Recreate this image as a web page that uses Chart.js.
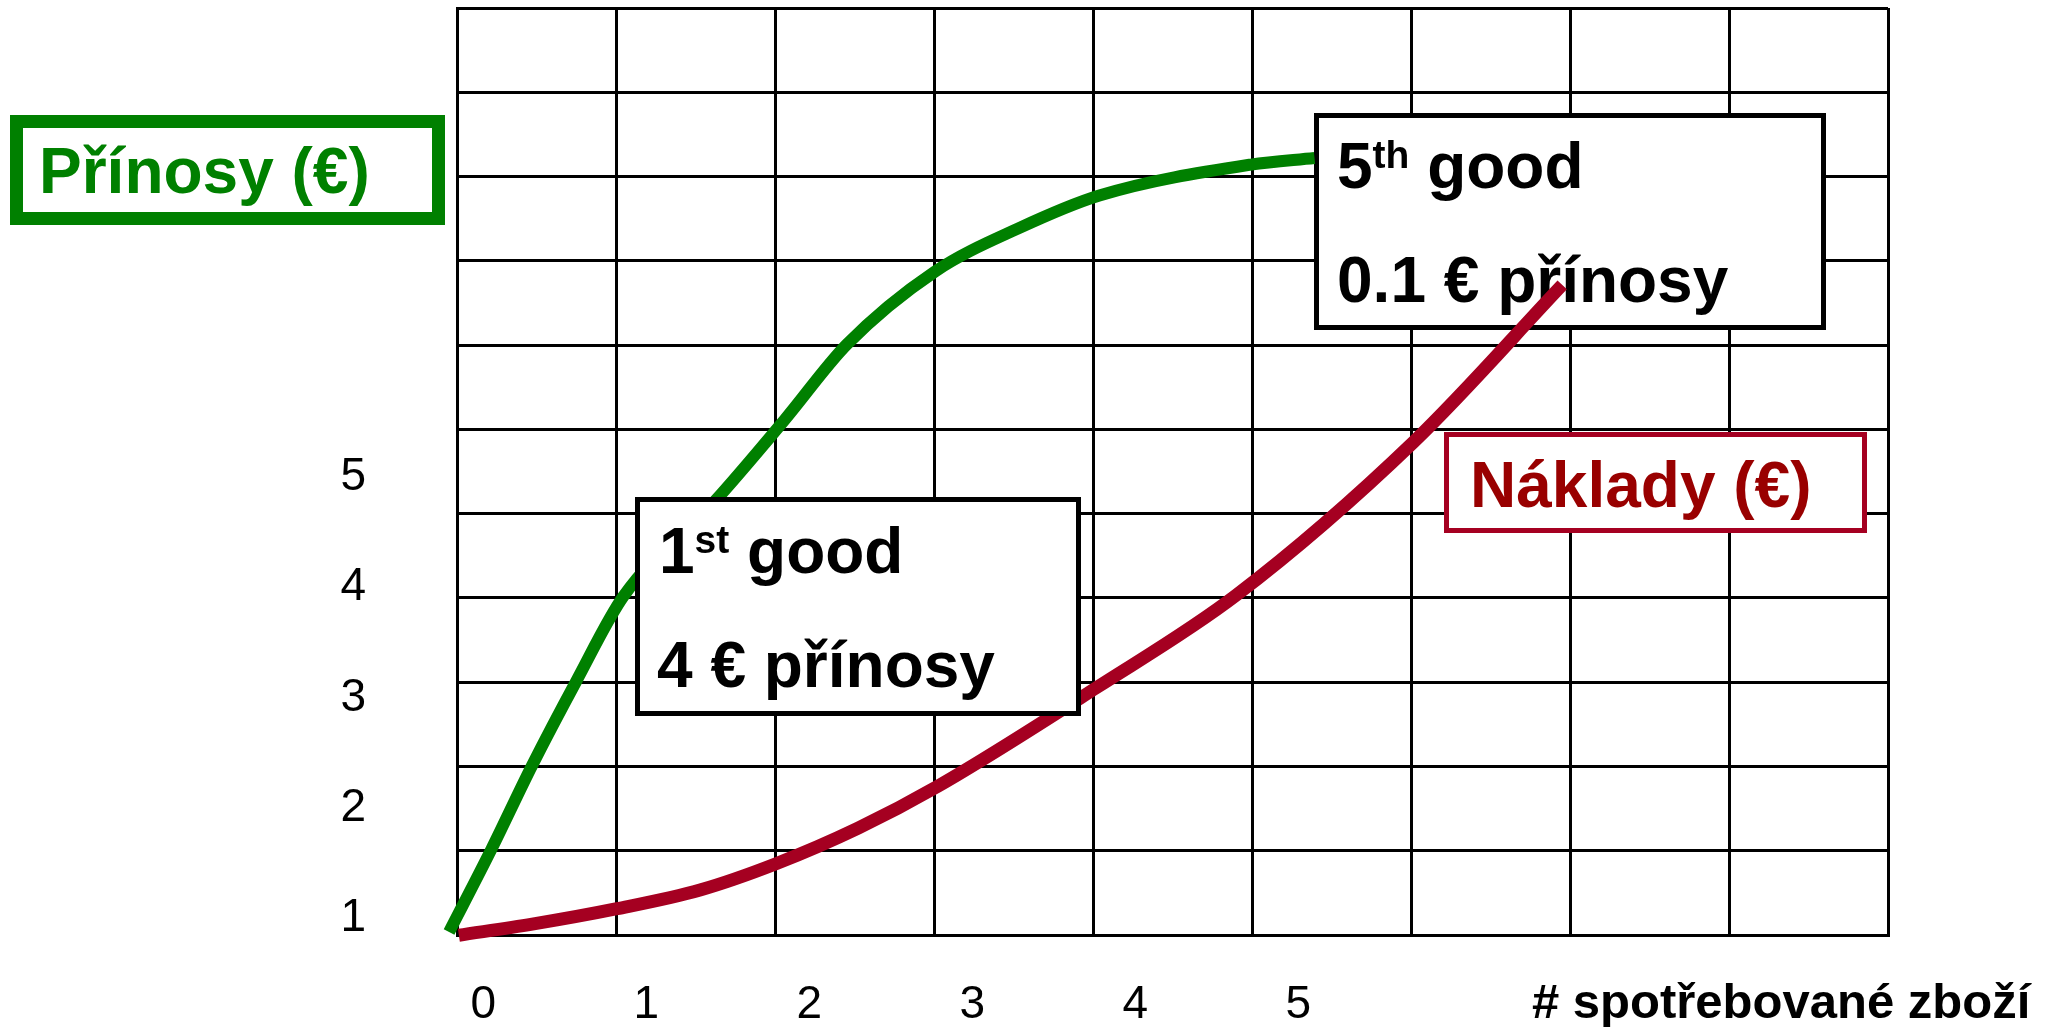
<!DOCTYPE html>
<html>
<head>
<meta charset="utf-8">
<script src="https://cdn.jsdelivr.net/npm/chart.js@4/dist/chart.umd.min.js"></script>
<style>
  html, body { margin: 0; padding: 0; background: #fff; }
  #wrap { position: relative; width: 2047px; height: 1027px; }
</style>
</head>
<body>
<div id="wrap"><canvas id="chart"></canvas></div>
<script>
// tick labels
const xTickLabels = [0, 1, 2, 3, 4, 5];
const yTickLabels = [1, 2, 3, 4, 5];

// Přínosy curve (x = goods, y = €)
const prinosyX = [-0.21, 0.05, 0.3, 0.57, 0.86, 1.42, 1.85, 2.23, 2.77, 3.28, 3.78, 4.71, 5.1];
const prinosyY = [0.88, 1.63, 2.39, 3.15, 3.92, 4.78, 5.52, 6.2, 6.86, 7.25, 7.55, 7.83, 7.89];

// Náklady curve
const nakladyX = [-0.15, 0.3, 0.82, 1.33, 1.8, 2.3, 2.79, 3.76, 4.62, 5.71, 6.62];
const nakladyY = [0.85, 0.95, 1.09, 1.26, 1.5, 1.82, 2.2, 3.09, 3.93, 5.32, 6.74];

const FONT = "'Liberation Sans', Arial, sans-serif";
const GREEN = "#008000";
const RED = "#a50021";

Chart.defaults.font.family = FONT;

function toPoints(xs, ys){
    return xs.map((x, i) => ({x: x, y: ys[i]}));
}

function drawBox(ctx, b){
    ctx.save();
    ctx.fillStyle = "#fff";
    ctx.fillRect(b.x, b.y, b.w, b.h);
    ctx.lineWidth = b.lw;
    ctx.strokeStyle = b.stroke;
    ctx.strokeRect(b.x + b.lw / 2, b.y + b.lw / 2, b.w - b.lw, b.h - b.lw);
    ctx.fillStyle = b.color;
    ctx.textBaseline = "alphabetic";
    ctx.textAlign = "left";
    b.lines.forEach(line => {
        let x = line.x;
        line.parts.forEach(p => {
            ctx.font = "bold " + p.size + "px " + FONT;
            ctx.fillText(p.text, x, line.y - (p.rise || 0));
            x += ctx.measureText(p.text).width;
        });
    });
    ctx.restore();
}

const prinosyBox = {
    x: 10, y: 115, w: 435, h: 110, lw: 13, stroke: GREEN, color: GREEN,
    lines: [{x: 39, y: 193, parts: [{text: "Přínosy (€)", size: 64}]}]
};
const nakladyBox = {
    x: 1444, y: 432, w: 423, h: 101, lw: 5, stroke: RED, color: "#990000",
    lines: [{x: 1470, y: 507, parts: [{text: "Náklady (€)", size: 64}]}]
};
const firstBox = {
    x: 635, y: 497, w: 446, h: 219, lw: 5, stroke: "#000", color: "#000",
    lines: [
        {x: 659, y: 573, parts: [{text: "1", size: 64}, {text: "st", size: 39, rise: 20}, {text: " good", size: 64}]},
        {x: 657, y: 687, parts: [{text: "4 € přínosy", size: 64}]}
    ]
};
const fifthBox = {
    x: 1314, y: 113, w: 512, h: 217, lw: 5, stroke: "#000", color: "#000",
    lines: [
        {x: 1337, y: 188, parts: [{text: "5", size: 64}, {text: "th", size: 39, rise: 20}, {text: " good", size: 64}]},
        {x: 1337, y: 302, parts: [{text: "0.1 € přínosy", size: 64}]}
    ]
};

const annotations = {
    id: "annotations",
    beforeDatasetsDraw(chart){
        const ctx = chart.ctx;
        drawBox(ctx, prinosyBox);
        drawBox(ctx, nakladyBox);
        drawBox(ctx, fifthBox);
    },
    afterDatasetsDraw(chart){
        drawBox(chart.ctx, firstBox);
    },
    afterDraw(chart){
        const ctx = chart.ctx;
        ctx.save();
        ctx.font = "bold 49px " + FONT;
        ctx.fillStyle = "#000";
        ctx.textBaseline = "alphabetic";
        ctx.fillText("# spotřebované zboží", 1532, 1018);
        ctx.restore();
    }
};

// no automatic label padding, the layout is set by hand
function fixSize(w, h){
    return function(scale){
        if (w !== null) scale.width = w;
        if (h !== null) scale.height = h;
        scale.paddingTop = 0;
        scale.paddingBottom = 0;
        scale.paddingLeft = 0;
        scale.paddingRight = 0;
    };
}

new Chart(document.getElementById("chart").getContext("2d"), {
    type: "line",
    data: {
        datasets: [
            {
                label: "Přínosy (€)",
                data: toPoints(prinosyX, prinosyY),
                xAxisID: "xl",
                yAxisID: "yl",
                borderColor: GREEN,
                borderWidth: 12,
                pointRadius: 0,
                cubicInterpolationMode: "monotone",
                clip: false
            },
            {
                label: "Náklady (€)",
                data: toPoints(nakladyX, nakladyY),
                xAxisID: "xl",
                yAxisID: "yl",
                borderColor: RED,
                borderWidth: 13,
                pointRadius: 0,
                cubicInterpolationMode: "monotone",
                clip: false
            }
        ]
    },
    options: {
        responsive: true,
        maintainAspectRatio: false,
        animation: false,
        layout: {padding: {left: 257, right: 159, top: 8, bottom: 0}},
        plugins: {legend: {display: false}, tooltip: {enabled: false}},
        scales: {
            x: {
                type: "linear", position: "bottom", weight: 0,
                min: 0, max: 9,
                ticks: {display: false, stepSize: 1},
                grid: {color: "#000", lineWidth: 3, drawTicks: false},
                border: {color: "#000", width: 3},
                afterFit: fixSize(null, 0)
            },
            y: {
                type: "linear", position: "left", weight: 0,
                min: 0, max: 11,
                ticks: {display: false, stepSize: 1},
                grid: {color: "#000", lineWidth: 3, drawTicks: false},
                border: {color: "#000", width: 3},
                afterFit: fixSize(0, null)
            },
            xl: {
                type: "linear", position: "bottom", weight: 1,
                min: -0.1614, max: 8.619,
                grid: {display: false, drawTicks: false},
                border: {display: false},
                ticks: {color: "#000", font: {size: 46}, padding: 43, maxRotation: 0},
                afterBuildTicks(scale){ scale.ticks = xTickLabels.map(v => ({value: v})); },
                afterFit: fixSize(null, 92)
            },
            yl: {
                type: "linear", position: "left", weight: 1,
                min: 0.852, max: 9.248,
                grid: {display: false, drawTicks: false},
                border: {display: false},
                ticks: {color: "#000", font: {size: 46}, padding: 91},
                afterBuildTicks(scale){ scale.ticks = yTickLabels.map(v => ({value: v})); },
                afterFit: fixSize(200, null)
            }
        }
    },
    plugins: [annotations]
});
</script>
</body>
</html>
